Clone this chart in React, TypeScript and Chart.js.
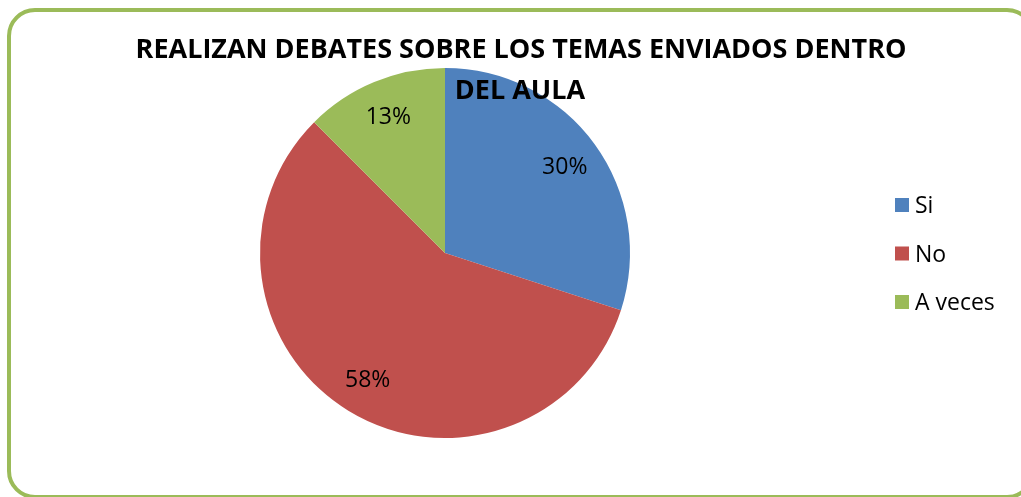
import { useEffect, useRef } from "react";
import { Chart, registerables } from "chart.js";

Chart.register(...registerables);

const categories = ["Si", "No", "A veces"];
const counts = [12, 23, 5];
const percentLabels = ["30%", "58%", "13%"];
const colors = ["#4F81BD", "#C0504D", "#9BBB59"];
const titleLines = ["REALIZAN DEBATES SOBRE LOS TEMAS ENVIADOS DENTRO", "DEL AULA"];

const FONT = "'Open Sans', 'Noto Sans', sans-serif";

const sliceLabelPlugin = {
  id: "sliceLabels",
  afterDatasetsDraw(chart: any) {
    const ctx = chart.ctx;
    const meta = chart.getDatasetMeta(0);
    ctx.save();
    ctx.font = `23px ${FONT}`;
    ctx.fillStyle = "#000000";
    ctx.textAlign = "center";
    ctx.textBaseline = "alphabetic";
    meta.data.forEach((arc: any, i: number) => {
      const { x, y, startAngle, endAngle, outerRadius } = arc.getProps(
        ["x", "y", "startAngle", "endAngle", "outerRadius"],
        true
      );
      const mid = (startAngle + endAngle) / 2;
      const r = outerRadius * 0.8;
      const tx = x + Math.cos(mid) * r;
      const ty = y + Math.sin(mid) * r;
      ctx.fillText(percentLabels[i], tx, ty + 8);
    });
    ctx.restore();
  },
};

const titlePlugin = {
  id: "overTitle",
  afterDraw(chart: any) {
    const ctx = chart.ctx;
    ctx.save();
    ctx.font = `bold 27px ${FONT}`;
    ctx.fillStyle = "#000000";
    ctx.textAlign = "center";
    ctx.textBaseline = "alphabetic";
    ctx.fillText(titleLines[0], 521, 58);
    ctx.fillText(titleLines[1], 520, 99);
    ctx.restore();
  },
};

const legendPlugin = {
  id: "sideLegend",
  afterDraw(chart: any) {
    const ctx = chart.ctx;
    const labels = chart.data.labels as string[];
    const bg = chart.data.datasets[0].backgroundColor as string[];
    ctx.save();
    ctx.font = `23px ${FONT}`;
    ctx.textAlign = "left";
    ctx.textBaseline = "alphabetic";
    labels.forEach((lab, i) => {
      const cy = 205 + i * 48.5;
      ctx.fillStyle = bg[i];
      ctx.fillRect(895, cy - 7, 14, 14);
      ctx.fillStyle = "#000000";
      ctx.fillText(lab, 915, cy + 8);
    });
    ctx.restore();
  },
};

export default function App() {
  const canvasRef = useRef<HTMLCanvasElement | null>(null);

  useEffect(() => {
    if (!canvasRef.current) return;
    const chart = new Chart(canvasRef.current, {
      type: "pie",
      data: {
        labels: categories,
        datasets: [
          {
            data: counts,
            backgroundColor: colors,
            borderWidth: 0,
            hoverOffset: 0,
            offset: 0,
          },
        ],
      },
      options: {
        responsive: false,
        animation: false,
        rotation: 0,
        layout: { padding: { left: 260, right: 391, top: 68, bottom: 59 } },
        plugins: {
          legend: { display: false },
          tooltip: { enabled: false },
          title: { display: false },
        },
        events: [],
      },
      plugins: [sliceLabelPlugin, titlePlugin, legendPlugin],
    });
    return () => chart.destroy();
  }, []);

  return (
    <div
      style={{
        position: "fixed",
        left: 0,
        top: 0,
        width: 1021,
        height: 497,
        overflow: "hidden",
        background: "#ffffff",
      }}
    >
      <div
        style={{
          position: "absolute",
          left: 7,
          top: 8,
          width: 1028,
          height: 491,
          boxSizing: "border-box",
          border: "4px solid #9BBB59",
          borderRadius: 28,
          background: "#ffffff",
        }}
      />
      <canvas
        ref={canvasRef}
        width={1021}
        height={497}
        style={{ position: "absolute", left: 0, top: 0, width: 1021, height: 497 }}
      />
    </div>
  );
}
